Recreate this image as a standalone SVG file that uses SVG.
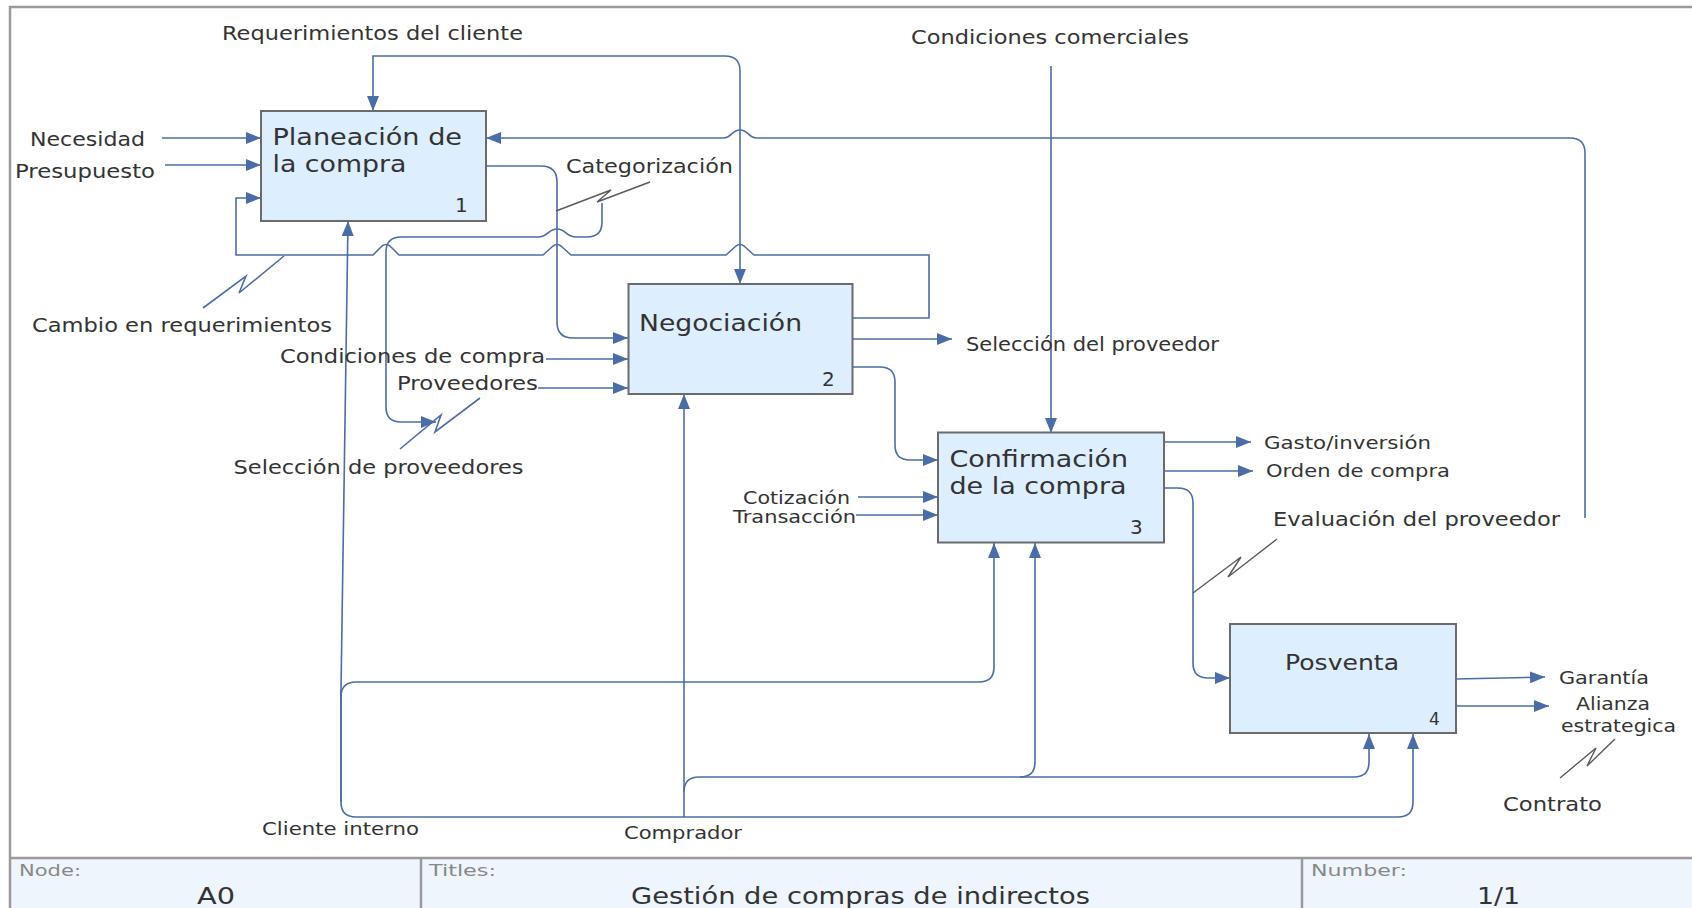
<svg xmlns="http://www.w3.org/2000/svg" width="1692" height="908" viewBox="0 0 1692 908">
  <defs>
    <marker id="arrow" viewBox="0 0 15 12" refX="15" refY="6" markerWidth="15" markerHeight="12" markerUnits="userSpaceOnUse" orient="auto">
      <path d="M0,0 L15,6 L0,12 z" fill="#4a6da7"/>
    </marker>
    <style>
      .frame { fill: none; stroke: #9a9a9a; stroke-width: 2.5; }
      .box { fill: #ddeeff; stroke: #6b6b6b; stroke-width: 2; }
      .flow { fill: none; stroke: #4a6da7; stroke-width: 1.6; }
      .arr { marker-end: url(#arrow); }
      .squig { fill: none; stroke: #5a5a5a; stroke-width: 1.4; }
      .squig-b { fill: none; stroke: #4a6da7; stroke-width: 1.6; }
      text { font-family: "DejaVu Sans", Verdana, sans-serif; fill: #333333; }
      .lbl { font-size: 20px; }
      .sm { font-size: 18px; }
      .nm { font-size: 23px; }
      .num { font-size: 20px; }
      .hdr { font-size: 16px; fill: #888888; }
      .ttl { font-size: 23px; }
    </style>
  </defs>

  <rect width="1692" height="908" fill="#ffffff"/>

  <!-- sheet frame and title block -->
  <g id="frame">
    <rect x="10" y="858" width="1682" height="50" fill="#eef5fd"/>
    <path class="frame" d="M10,908 V7 H1692"/>
    <path class="frame" d="M10,858 H1692 M421,858 V908 M1302,858 V908"/>
    <text class="hdr" x="19" y="876" textLength="62" lengthAdjust="spacingAndGlyphs">Node:</text>
    <text class="ttl" x="197" y="904" textLength="38" lengthAdjust="spacingAndGlyphs">A0</text>
    <text class="hdr" x="429" y="876" textLength="67" lengthAdjust="spacingAndGlyphs">Titles:</text>
    <text class="ttl" x="631" y="904" textLength="459" lengthAdjust="spacingAndGlyphs">Gestión de compras de indirectos</text>
    <text class="hdr" x="1311" y="876" textLength="96" lengthAdjust="spacingAndGlyphs">Number:</text>
    <text class="ttl" x="1477" y="904" textLength="43" lengthAdjust="spacingAndGlyphs">1/1</text>
  </g>

  <!-- arrows between activities -->
  <g id="connectors">
    <!-- Requerimientos del cliente -->
    <path class="flow arr" d="M556,56 H373 V111"/>
    <path class="flow arr" d="M556,56 H725 Q740,56 740,71 V284"/>
    <!-- Necesidad, Presupuesto -->
    <path class="flow arr" d="M162,138 H261"/>
    <path class="flow arr" d="M165,165 H261"/>
    <!-- Evaluación del proveedor feedback to 1 -->
    <path class="flow arr" d="M1585,518 V153 Q1585,138 1570,138 H756 C749,138 748,130 740,130 C732,130 731,138 724,138 H486"/>
    <!-- 1 to 2 -->
    <path class="flow arr" d="M486,166 H541 Q557,166 557,182 V322 Q557,338 573,338 H628"/>
    <!-- loop back from the Categorización call-out -->
    <path class="flow arr" d="M602,203 V222 Q602,237 587,237 H576 C566,237 566,229 557,229 C548,229 548,237 538,237 H401 Q386,237 386,252 V407 Q386,422 401,422 H436"/>
    <!-- 2 back to 1 (Cambio en requerimientos) -->
    <path class="flow arr" d="M852,318 H929 V255 H754 L744,246 Q740,243 736,246 L726,255 H571 L561,246 Q557,243 553,246 L543,255 H399 L390,246 Q386,243 382,246 L373,255 H236 V198 H261"/>
    <!-- Condiciones de compra, Proveedores -->
    <path class="flow arr" d="M546,359 H628"/>
    <path class="flow arr" d="M538,388 H628"/>
    <!-- Selección del proveedor -->
    <path class="flow arr" d="M852,339 H952"/>
    <!-- 2 to 3 -->
    <path class="flow arr" d="M852,367 H880 Q895,367 895,382 V445 Q895,460 910,460 H938"/>
    <!-- Condiciones comerciales -->
    <path class="flow arr" d="M1051,66 V433"/>
    <!-- Cotización, Transacción -->
    <path class="flow arr" d="M858,497 H938"/>
    <path class="flow arr" d="M856,515 H938"/>
    <!-- outputs of 3 -->
    <path class="flow arr" d="M1164,442 H1251"/>
    <path class="flow arr" d="M1164,471 H1253"/>
    <!-- 3 to 4 -->
    <path class="flow arr" d="M1164,488 H1178 Q1193,488 1193,503 V663 Q1193,678 1208,678 H1230"/>
    <!-- outputs of 4 -->
    <path class="flow arr" d="M1456,679 L1545,677"/>
    <path class="flow arr" d="M1456,706 H1549"/>
    <!-- Cliente interno -->
    <path class="flow arr" d="M341,802 V690 L348,221"/>
    <path class="flow arr" d="M341,697 Q341,682 356,682 H979 Q994,682 994,667 V543"/>
    <path class="flow arr" d="M341,690 V802 Q341,817 356,817 H1398 Q1413,817 1413,802 V734"/>
    <!-- Comprador -->
    <path class="flow arr" d="M684,817 V394"/>
    <path class="flow arr" d="M684,792 Q684,777 699,777 H1354 Q1369,777 1369,762 V734"/>
    <path class="flow arr" d="M1020,777 Q1035,777 1035,762 V543"/>
    <!-- label call-outs -->
    <path class="squig" d="M556,211 L611,190 L597,202 L650,182"/>
    <path class="squig-b" d="M203,308 L246,276 L239,293 L284,256"/>
    <path class="squig-b" d="M400,449 L441,415 L435,432 L480,398"/>
    <path class="squig" d="M1193,593 L1241,557 L1228,577 L1277,539"/>
    <path class="squig" d="M1560,778 L1596,748 L1587,766 L1615,739"/>
  </g>

  <!-- activities -->
  <g id="node-1">
    <rect class="box" x="261" y="111" width="225" height="110"/>
    <text class="nm" x="272.5" y="145" textLength="189.5" lengthAdjust="spacingAndGlyphs">Planeación de</text>
    <text class="nm" x="272.5" y="172" textLength="134" lengthAdjust="spacingAndGlyphs">la compra</text>
    <text class="num" x="455" y="211.5">1</text>
  </g>
  <g id="node-2">
    <rect class="box" x="628.5" y="284" width="224" height="110"/>
    <text class="nm" x="639" y="330.5" textLength="163" lengthAdjust="spacingAndGlyphs">Negociación</text>
    <text class="num" x="822" y="385.5">2</text>
  </g>
  <g id="node-3">
    <rect class="box" x="938" y="432.5" width="226" height="110"/>
    <text class="nm" x="949.5" y="466.5" textLength="178.5" lengthAdjust="spacingAndGlyphs">Confirmación</text>
    <text class="nm" x="949.5" y="494" textLength="177" lengthAdjust="spacingAndGlyphs">de la compra</text>
    <text class="num" x="1130" y="534">3</text>
  </g>
  <g id="node-4">
    <rect class="box" x="1230" y="624" width="226" height="109"/>
    <text class="nm" x="1285" y="670" textLength="114" lengthAdjust="spacingAndGlyphs" style="font-size:21px">Posventa</text>
    <text class="num" x="1429" y="725" style="font-size:17px">4</text>
  </g>

  <!-- arrow labels -->
  <g id="labels">
    <text class="lbl" x="222" y="40" textLength="301" lengthAdjust="spacingAndGlyphs">Requerimientos del cliente</text>
    <text class="lbl" x="911" y="44" textLength="278" lengthAdjust="spacingAndGlyphs">Condiciones comerciales</text>
    <text class="lbl" x="30" y="146" textLength="115" lengthAdjust="spacingAndGlyphs">Necesidad</text>
    <text class="lbl" x="15" y="178" textLength="140" lengthAdjust="spacingAndGlyphs">Presupuesto</text>
    <text class="lbl" x="566" y="172.5" textLength="167" lengthAdjust="spacingAndGlyphs">Categorización</text>
    <text class="lbl" x="32" y="332" textLength="300" lengthAdjust="spacingAndGlyphs">Cambio en requerimientos</text>
    <text class="lbl" x="280" y="363" textLength="265" lengthAdjust="spacingAndGlyphs">Condiciones de compra</text>
    <text class="lbl" x="397" y="390" textLength="141" lengthAdjust="spacingAndGlyphs">Proveedores</text>
    <text class="lbl" x="233.5" y="474" textLength="290" lengthAdjust="spacingAndGlyphs">Selección de proveedores</text>
    <text class="lbl" x="966" y="350.5" textLength="253" lengthAdjust="spacingAndGlyphs" style="font-size:19px">Selección del proveedor</text>
    <text class="sm" x="743" y="504" textLength="107" lengthAdjust="spacingAndGlyphs">Cotización</text>
    <text class="sm" x="733" y="523" textLength="123" lengthAdjust="spacingAndGlyphs">Transacción</text>
    <text class="sm" x="1264" y="449" textLength="167" lengthAdjust="spacingAndGlyphs">Gasto/inversión</text>
    <text class="sm" x="1266" y="476.5" textLength="184" lengthAdjust="spacingAndGlyphs">Orden de compra</text>
    <text class="lbl" x="1273" y="525.5" textLength="287" lengthAdjust="spacingAndGlyphs">Evaluación del proveedor</text>
    <text class="sm" x="1559" y="684" textLength="90" lengthAdjust="spacingAndGlyphs" style="font-size:17px">Garantía</text>
    <text class="sm" x="1576" y="710" textLength="74" lengthAdjust="spacingAndGlyphs" style="font-size:17px">Alianza</text>
    <text class="sm" x="1561" y="731.5" textLength="115" lengthAdjust="spacingAndGlyphs" style="font-size:17px">estrategica</text>
    <text class="sm" x="1503" y="810.5" textLength="99" lengthAdjust="spacingAndGlyphs" style="font-size:19px">Contrato</text>
    <text class="sm" x="262" y="835" textLength="157" lengthAdjust="spacingAndGlyphs">Cliente interno</text>
    <text class="sm" x="624" y="838.5" textLength="118" lengthAdjust="spacingAndGlyphs">Comprador</text>
  </g>
</svg>
